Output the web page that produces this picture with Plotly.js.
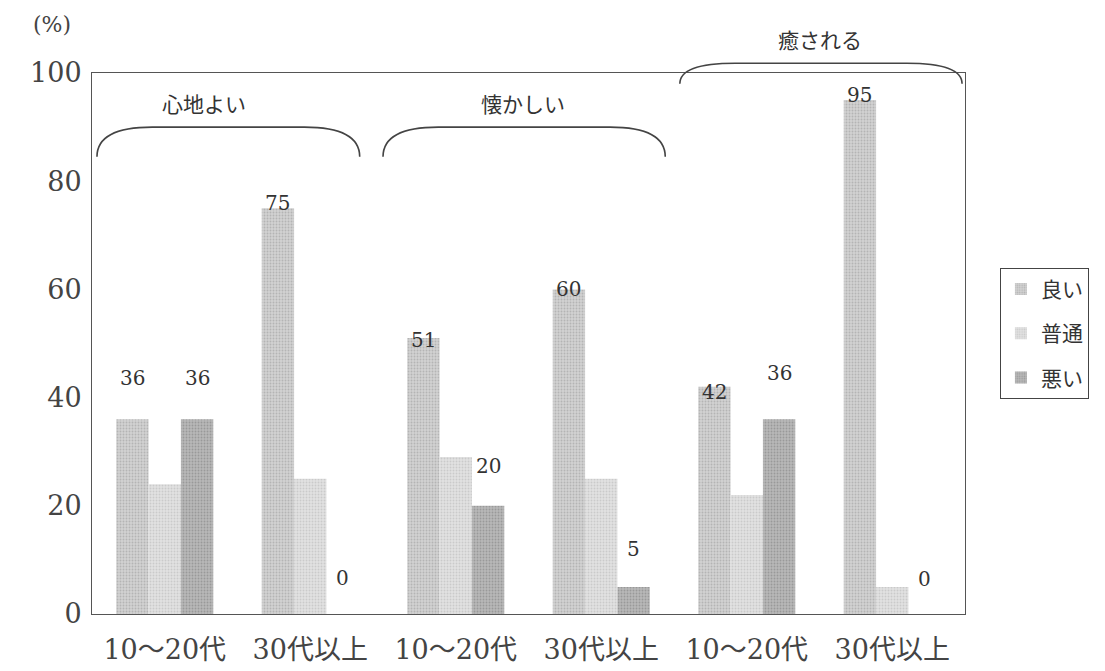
<!DOCTYPE html>
<html>
<head>
<meta charset="utf-8">
<script src="https://cdn.plot.ly/plotly-3.0.1.min.js"></script>
<style>
  html, body { margin: 0; padding: 0; background: #ffffff; }
  #chart { width: 1105px; height: 671px; }
</style>
</head>
<body>
<div id="chart"></div>
<script>
// Impression ratings (%) by age group, for three sound descriptions
var groupLabels = ['10～20代', '30代以上', '10～20代', '30代以上', '10～20代', '30代以上'];
var themes = ['心地よい', '懐かしい', '癒される'];
var seriesNames = ['良い', '普通', '悪い'];
var good = [36, 75, 51, 60, 42, 95];
var neutral = [24, 25, 29, 25, 22, 5];
var bad = [36, 0, 20, 5, 36, 0];

var serif = 'DejaVu Serif, Liberation Serif, Noto Sans CJK JP, serif';
var jp = 'Noto Sans CJK JP, sans-serif';

var xIdx = groupLabels.map(function (_, i) { return i; });
var fills = [
  { bg: '#d2d2d2', fg: '#b4b4b4' },
  { bg: '#e2e2e2', fg: '#cacaca' },
  { bg: '#b8b8b8', fg: '#999999' }
];
var seriesValues = [good, neutral, bad];

var traces = seriesValues.map(function (vals, k) {
  return {
    type: 'bar',
    name: seriesNames[k],
    legendgroup: 'g' + k,
    x: xIdx,
    y: vals,
    marker: {
      color: fills[k].bg,
      line: { width: 0 },
      pattern: { shape: '.', fgcolor: fills[k].fg, bgcolor: fills[k].bg, size: 3, solidity: 0.3 }
    },
    hoverinfo: 'x+y'
  };
});

var xRange = [-0.5, 5.5];
var yRange = [0, 100];
var bargap = 0.333;
var barW = (1 - bargap) / 3;

// value labels above the 良い and 悪い bars (lift is in axis units)
var labelLift = {
  good: [7.6, 0.9, -0.4, 0.1, -1.0, 1.0],
  bad: [7.6, 6.6, 7.4, 7.0, 8.5, 6.5]
};
var annotations = [];
good.forEach(function (v, i) {
  annotations.push({
    x: i - barW, y: v + labelLift.good[i], xref: 'x', yref: 'y',
    text: String(v), showarrow: false, xanchor: 'center', yanchor: 'middle',
    font: { family: serif, size: 20, color: '#333333' }
  });
});
bad.forEach(function (v, i) {
  annotations.push({
    x: i + barW, y: v + labelLift.bad[i], xref: 'x', yref: 'y',
    text: String(v), showarrow: false, xanchor: 'center', yanchor: 'middle',
    font: { family: serif, size: 20, color: '#333333' }
  });
});

// theme brackets spanning each pair of age groups (positions in axis units)
var brackets = [
  { x0: -0.466, x1: 1.34, yEnd: 84.5, yTop: 90.0, tx: 0.27, ty: 94.4 },
  { x0: 1.50, x1: 3.44, yEnd: 84.5, yTop: 90.0, tx: 2.46, ty: 94.4 },
  { x0: 3.54, x1: 5.48, yEnd: 98.0, yTop: 101.8, tx: 4.50, ty: 106.3 }
];
function px(x) { return (x - xRange[0]) / (xRange[1] - xRange[0]); }
function py(y) { return (y - yRange[0]) / (yRange[1] - yRange[0]); }
var curveW = 0.38;
var shapes = brackets.map(function (b) {
  var x0 = px(b.x0), x1 = px(b.x1), xa = px(b.x0 + curveW), xb = px(b.x1 - curveW);
  var ye = py(b.yEnd), yt = py(b.yTop);
  var d = 'M ' + x0 + ',' + ye +
          ' Q ' + x0 + ',' + yt + ' ' + xa + ',' + yt +
          ' L ' + xb + ',' + yt +
          ' Q ' + x1 + ',' + yt + ' ' + x1 + ',' + ye;
  return { type: 'path', xref: 'paper', yref: 'paper', path: d,
           line: { color: '#444444', width: 1.6 } };
});
brackets.forEach(function (b, i) {
  annotations.push({
    x: px(b.tx), y: py(b.ty), xref: 'paper', yref: 'paper', text: themes[i], showarrow: false,
    xanchor: 'center', yanchor: 'middle',
    font: { family: jp, size: 21, color: '#333333' }
  });
});

// unit marker above the value axis
annotations.push({
  x: -0.0458, y: 1.09, xref: 'paper', yref: 'paper', text: '(%)', showarrow: false,
  xanchor: 'center', yanchor: 'middle',
  font: { family: serif, size: 22, color: '#444444' }
});

var layout = {
  width: 1105,
  height: 671,
  margin: { l: 92, r: 140, t: 73, b: 57 },
  paper_bgcolor: '#ffffff',
  plot_bgcolor: '#ffffff',
  barmode: 'group',
  bargap: bargap,
  bargroupgap: 0,
  showlegend: true,
  legend: {
    x: 1.04, xanchor: 'left', y: 0.64, yanchor: 'top',
    bordercolor: '#444444', borderwidth: 1, bgcolor: '#ffffff',
    font: { family: jp, size: 21, color: '#333333' },
    traceorder: 'grouped', tracegroupgap: 14, itemwidth: 30
  },
  xaxis: {
    range: xRange,
    tickvals: xIdx,
    ticktext: groupLabels,
    tickfont: { family: serif, size: 27, color: '#444444' },
    showgrid: false, zeroline: false,
    showline: true, mirror: true, linecolor: '#555555', linewidth: 1,
    ticks: '', ticklabelstandoff: 12, fixedrange: true
  },
  yaxis: {
    range: yRange,
    tickvals: [0, 20, 40, 60, 80, 100],
    tickfont: { family: serif, size: 27, color: '#444444' },
    showgrid: false, zeroline: false,
    showline: true, mirror: true, linecolor: '#555555', linewidth: 1,
    ticks: '', ticklabelstandoff: 4, fixedrange: true
  },
  annotations: annotations,
  shapes: shapes
};

Plotly.newPlot('chart', traces, layout, { displayModeBar: false, staticPlot: true });
</script>
</body>
</html>
